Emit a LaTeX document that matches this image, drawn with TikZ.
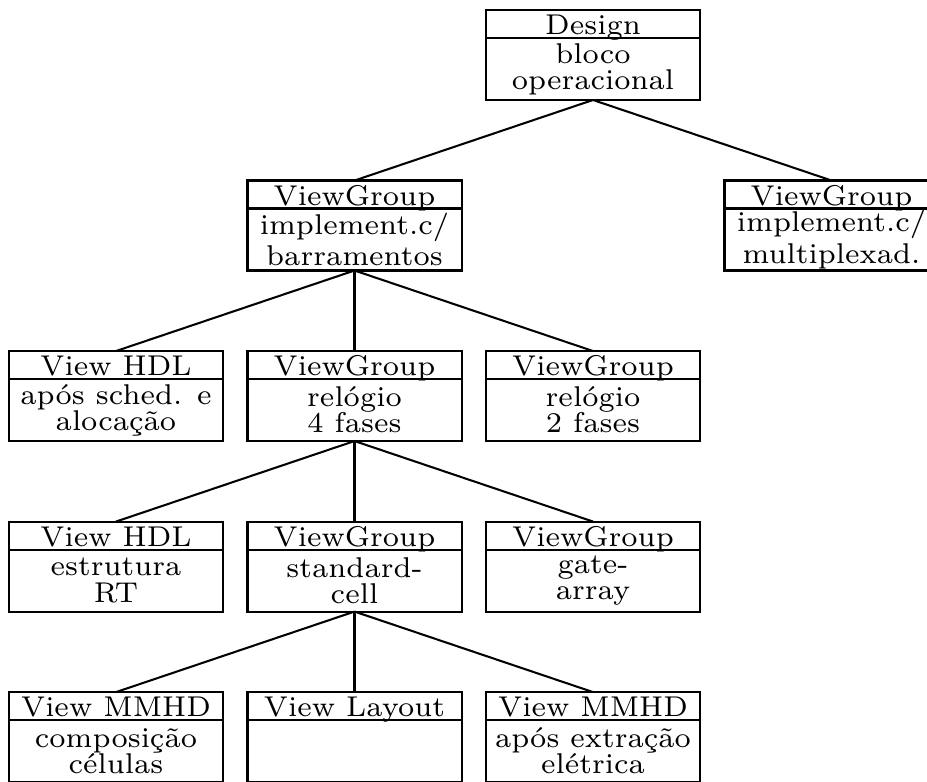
\documentclass[tikz,border=0pt]{standalone}
\usetikzlibrary{positioning}

\begin{document}
\begin{tikzpicture}[
    x=58.38pt, y=-41.74pt,
    line width=0.5pt,
    hdr/.style={draw, anchor=north, minimum width=52.39pt, minimum height=6.85pt,
                text height=5.14pt, text depth=0pt, inner sep=0pt, outer sep=0pt,
                font=\fontsize{7}{6.4}\selectfont},
    bdy/.style={draw, below=0pt of #1, minimum width=52.39pt, minimum height=15.18pt,
                inner sep=0pt, outer sep=0pt, align=center, font=\fontsize{7}{6.4}\selectfont},
]
    \useasboundingbox (-0.4864,-0.0587) rectangle (3.4004,4.522);

    % design
    \node[hdr] (designh) at (2,0) {Design};
    \node[bdy=designh] (design) {bloco\\operacional};

    % implementacoes
    \node[hdr] (vgbarh) at (1,1) {ViewGroup};
    \node[bdy=vgbarh] (vgbar) {implement.c/\\barramentos};
    \node[hdr] (vgmuxh) at (3,1) {ViewGroup};
    \node[bdy=vgmuxh] (vgmux) {implement.c/\\multiplexad.};

    % relogio
    \node[hdr] (hdlschedh) at (0,2) {View HDL};
    \node[bdy=hdlschedh] (hdlsched) {após sched. e\\alocação};
    \node[hdr] (vgfour) at (1,2) {ViewGroup};
    \node[bdy=vgfour] (vgfourb) {relógio\\4 fases};
    \node[hdr] (vgtwoh) at (2,2) {ViewGroup};
    \node[bdy=vgtwoh] (vgtwo) {relógio\\2 fases};

    % tecnologia
    \node[hdr] (hdlrth) at (0,3) {View HDL};
    \node[bdy=hdlrth] (hdlrt) {estrutura\\RT};
    \node[hdr] (vgsch) at (1,3) {ViewGroup};
    \node[bdy=vgsch] (vgsc) {standard-\\cell};
    \node[hdr] (vggah) at (2,3) {ViewGroup};
    \node[bdy=vggah] (vgga) {gate-\\array};

    % celulas
    \node[hdr] (mmhdcomph) at (0,4) {View MMHD};
    \node[bdy=mmhdcomph] (mmhdcomp) {composição\\células};
    \node[hdr] (layouth) at (1,4) {View Layout};
    \node[bdy=layouth] (layout) {};
    \node[hdr] (mmhdexth) at (2,4) {View MMHD};
    \node[bdy=mmhdexth] (mmhdext) {após extração\\elétrica};

    % ligacoes
    \draw (design.south) -- (vgbarh.north);
    \draw (design.south) -- (vgmuxh.north);
    \draw (vgbar.south) -- (hdlschedh.north);
    \draw (vgbar.south) -- (vgfour.north);
    \draw (vgbar.south) -- (vgtwoh.north);
    \draw (vgfourb.south) -- (hdlrth.north);
    \draw (vgfourb.south) -- (vgsch.north);
    \draw (vgfourb.south) -- (vggah.north);
    \draw (vgsc.south) -- (mmhdcomph.north);
    \draw (vgsc.south) -- (layouth.north);
    \draw (vgsc.south) -- (mmhdexth.north);
\end{tikzpicture}
\end{document}
